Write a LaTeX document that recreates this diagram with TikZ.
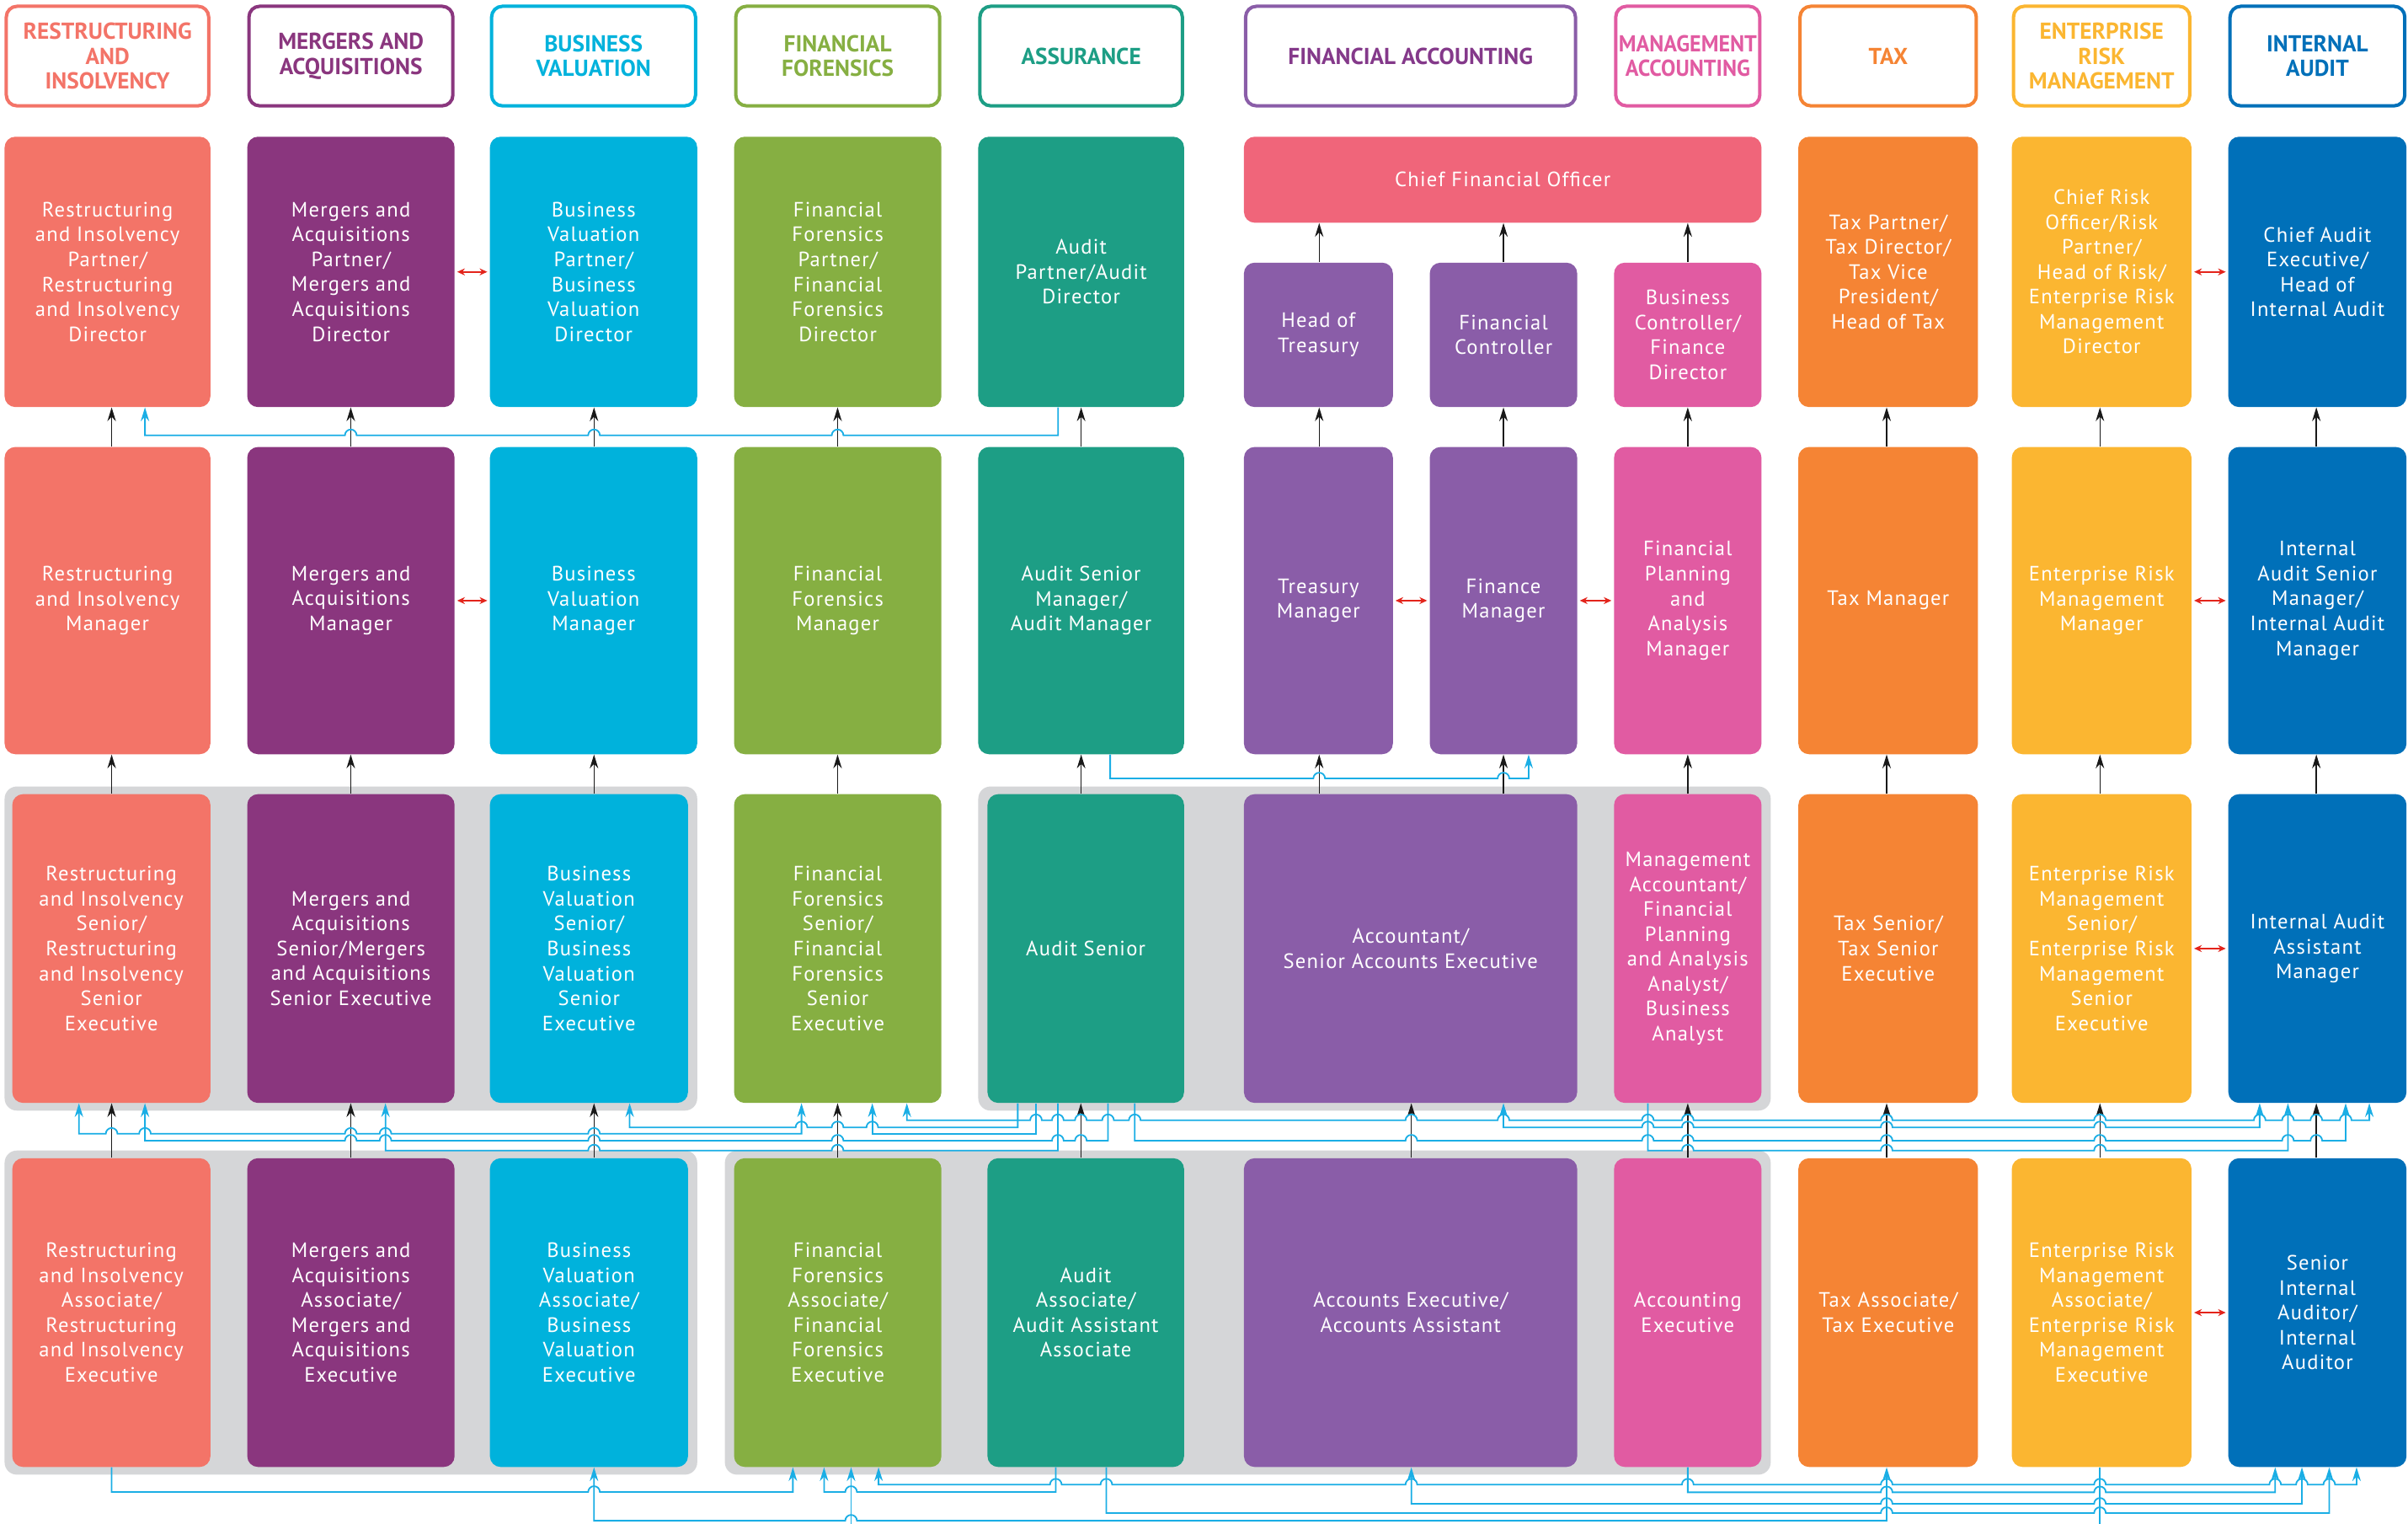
\documentclass[tikz,border=0pt]{standalone}
\usepackage{fontspec}
\usetikzlibrary{arrows.meta}
\newfontfamily\rolefont[LetterSpace=5]{PT Sans}
\newfontfamily\hdrfont{PT Sans}
\newfontfamily\hdrfontn[FakeStretch=0.95]{PT Sans}
\definecolor{cRI}{HTML}{F37468}
\definecolor{cMA}{HTML}{8A367E}
\definecolor{cBV}{HTML}{00B2DC}
\definecolor{cFF}{HTML}{86AF42}
\definecolor{cAS}{HTML}{1D9E85}
\definecolor{cFA}{HTML}{8A5DA8}
\definecolor{cFAt}{HTML}{84398A}
\definecolor{cMG}{HTML}{E15BA2}
\definecolor{cTX}{HTML}{F58434}
\definecolor{cER}{HTML}{FBB631}
\definecolor{cIA}{HTML}{0070B9}
\definecolor{cCFO}{HTML}{F0657A}
\definecolor{cGR}{HTML}{D5D6D8}
\definecolor{cBL}{HTML}{1AAEE5}
\definecolor{cRD}{HTML}{E3241B}
\newcommand\hopsR[2]{\gdef\hp{}\foreach \hh in {#2}{\xdef\hp{\hp -- (\hh-3.8,#1) arc[start angle=180,end angle=360,radius=3.8]}}}
\newcommand\hopsL[2]{\gdef\hp{}\foreach \hh in {#2}{\xdef\hp{\hp -- (\hh+3.8,#1) arc[start angle=0,end angle=-180,radius=3.8]}}}
\newcommand\bline[6]{\edef\tmpb{\noexpand\draw[bl,#1] #2 -- (#4,#3) \hp\space -- (#5,#3) -- #6;}\tmpb}
\newcommand\mkrole[7]{\node[role,fill=#2,minimum width={#5-#4},minimum height={#7-#6}] (#1) at ({(#4+#5)/2},{(#6+#7)/2}) {#3};}
\newcommand\mkhdr[6]{\node[hdr,draw=#2,text=#3,minimum width={#5-#4-2.2},minimum height={64.8}] (#1) at ({(#4+#5)/2},36.5) {#6};}
\tikzset{
  role/.style={rounded corners=7pt,text=white,align=center,inner sep=0pt,
    font={\rolefont\fontsize{13.5}{16.2}\selectfont}},
  hdr/.style={line width=2.2pt,rounded corners=7pt,fill=white,align=center,inner sep=0pt,
    font={\hdrfont\bfseries\fontsize{15}{16.2}\selectfont}},
  hdrn/.style={font={\hdrfontn\bfseries\fontsize{15}{16.2}\selectfont}},
  >={Stealth[length=9pt,width=5.5pt]},
  blk/.style={draw=black!90,line width=0.8pt,->},
  bl/.style={draw=cBL,line width=1pt},
  rdbl/.style={draw=cRD,line width=0.9pt,{Stealth[length=5pt,width=4.5pt]}-{Stealth[length=5pt,width=4.5pt]},shorten <=1.5pt,shorten >=1.5pt}
}
\begin{document}
\begin{tikzpicture}[x=1pt,y=-1pt]
\useasboundingbox (0,0) rectangle (1568,992);
\fill[white] (0,0) rectangle (1568,992);
% grey groups
\fill[cGR,rounded corners=8pt] (3,512) rectangle (454,723);
\fill[cGR,rounded corners=8pt] (637,512) rectangle (1153,723);
\fill[cGR,rounded corners=8pt] (3,749) rectangle (454,960);
\fill[cGR,rounded corners=8pt] (472,749) rectangle (1153,960);
% headers
\mkhdr{h1}{cRI}{cRI}{3}{137}{RESTRUCTURING\\AND\\INSOLVENCY}
\mkhdr{h2}{cMA}{cMA}{161}{296}{MERGERS AND\\ACQUISITIONS}
\mkhdr{h3}{cBV}{cBV}{319}{454}{BUSINESS\\VALUATION}
\mkhdr{h4}{cFF}{cFF}{478}{613}{FINANCIAL\\FORENSICS}
\mkhdr{h5}{cAS}{cAS}{637}{771}{ASSURANCE}
\mkhdr{h6}{cFA}{cFAt}{810}{1027}{FINANCIAL ACCOUNTING}
\node[hdr,hdrn,draw=cMG,text=cMG,minimum width={1147-1051-2.2},minimum height={64.8}] (h7) at (1099,36.5) {MANAGEMENT\\ACCOUNTING};
\mkhdr{h8}{cTX}{cTX}{1171}{1288}{TAX}
\mkhdr{h9}{cER}{cER}{1310}{1427}{ENTERPRISE\\RISK\\MANAGEMENT}
\mkhdr{h10}{cIA}{cIA}{1451}{1567}{INTERNAL\\AUDIT}
% row 1
\mkrole{ri1}{cRI}{Restructuring\\and Insolvency\\Partner/\\Restructuring\\and Insolvency\\Director}{3}{137}{89}{265}
\mkrole{ma1}{cMA}{Mergers and\\Acquisitions\\Partner/\\Mergers and\\Acquisitions\\Director}{161}{296}{89}{265}
\mkrole{bv1}{cBV}{Business\\Valuation\\Partner/\\Business\\Valuation\\Director}{319}{454}{89}{265}
\mkrole{fs1}{cFF}{Financial\\Forensics\\Partner/\\Financial\\Forensics\\Director}{478}{613}{89}{265}
\mkrole{as1}{cAS}{Audit\\Partner/Audit\\Director}{637}{771}{89}{265}
\mkrole{cfo}{cCFO}{Chief Financial Officer}{810}{1147}{89}{145}
\mkrole{ht1}{cFA}{Head of\\Treasury}{810}{907}{171}{265}
\mkrole{fc1}{cFA}{Financial\\Controller}{931}{1027}{171}{265}
\mkrole{bc1}{cMG}{Business\\Controller/\\Finance\\Director}{1051}{1147}{171}{265}
\mkrole{tx1}{cTX}{Tax Partner/\\Tax Director/\\Tax Vice\\President/\\Head of Tax}{1171}{1288}{89}{265}
\mkrole{er1}{cER}{Chief Risk\\Officer/Risk\\Partner/\\Head of Risk/\\Enterprise Risk\\Management\\Director}{1310}{1427}{89}{265}
\mkrole{ia1}{cIA}{Chief Audit\\Executive/\\Head of\\Internal Audit}{1451}{1567}{89}{265}
% row 2
\mkrole{ri2}{cRI}{Restructuring\\and Insolvency\\Manager}{3}{137}{291}{491}
\mkrole{ma2}{cMA}{Mergers and\\Acquisitions\\Manager}{161}{296}{291}{491}
\mkrole{bv2}{cBV}{Business\\Valuation\\Manager}{319}{454}{291}{491}
\mkrole{fs2}{cFF}{Financial\\Forensics\\Manager}{478}{613}{291}{491}
\mkrole{as2}{cAS}{Audit Senior\\Manager/\\Audit Manager}{637}{771}{291}{491}
\mkrole{tm2}{cFA}{Treasury\\Manager}{810}{907}{291}{491}
\mkrole{fm2}{cFA}{Finance\\Manager}{931}{1027}{291}{491}
\mkrole{fp2}{cMG}{Financial\\Planning\\and\\Analysis\\Manager}{1051}{1147}{291}{491}
\mkrole{tx2}{cTX}{Tax Manager}{1171}{1288}{291}{491}
\mkrole{er2}{cER}{Enterprise Risk\\Management\\Manager}{1310}{1427}{291}{491}
\mkrole{ia2}{cIA}{Internal\\Audit Senior\\Manager/\\Internal Audit\\Manager}{1451}{1567}{291}{491}
% row 3
\mkrole{ri3}{cRI}{Restructuring\\and Insolvency\\Senior/\\Restructuring\\and Insolvency\\Senior\\Executive}{8}{137}{517}{718}
\mkrole{ma3}{cMA}{Mergers and\\Acquisitions\\Senior/Mergers\\and Acquisitions\\Senior Executive}{161}{296}{517}{718}
\mkrole{bv3}{cBV}{Business\\Valuation\\Senior/\\Business\\Valuation\\Senior\\Executive}{319}{448}{517}{718}
\mkrole{fs3}{cFF}{Financial\\Forensics\\Senior/\\Financial\\Forensics\\Senior\\Executive}{478}{613}{517}{718}
\mkrole{as3}{cAS}{Audit Senior}{643}{771}{517}{718}
\mkrole{ac3}{cFA}{Accountant/\\Senior Accounts Executive}{810}{1027}{517}{718}
\mkrole{mg3}{cMG}{Management\\Accountant/\\Financial\\Planning\\and Analysis\\Analyst/\\Business\\Analyst}{1051}{1147}{517}{718}
\mkrole{tx3}{cTX}{Tax Senior/\\Tax Senior\\Executive}{1171}{1288}{517}{718}
\mkrole{er3}{cER}{Enterprise Risk\\Management\\Senior/\\Enterprise Risk\\Management\\Senior\\Executive}{1310}{1427}{517}{718}
\mkrole{ia3}{cIA}{Internal Audit\\Assistant\\Manager}{1451}{1567}{517}{718}
% row 4
\mkrole{ri4}{cRI}{Restructuring\\and Insolvency\\Associate/\\Restructuring\\and Insolvency\\Executive}{8}{137}{754}{955}
\mkrole{ma4}{cMA}{Mergers and\\Acquisitions\\Associate/\\Mergers and\\Acquisitions\\Executive}{161}{296}{754}{955}
\mkrole{bv4}{cBV}{Business\\Valuation\\Associate/\\Business\\Valuation\\Executive}{319}{448}{754}{955}
\mkrole{fs4}{cFF}{Financial\\Forensics\\Associate/\\Financial\\Forensics\\Executive}{478}{613}{754}{955}
\mkrole{as4}{cAS}{Audit\\Associate/\\Audit Assistant\\Associate}{643}{771}{754}{955}
\mkrole{ac4}{cFA}{Accounts Executive/\\Accounts Assistant}{810}{1027}{754}{955}
\mkrole{mg4}{cMG}{Accounting\\Executive}{1051}{1147}{754}{955}
\mkrole{tx4}{cTX}{Tax Associate/\\Tax Executive}{1171}{1288}{754}{955}
\mkrole{er4}{cER}{Enterprise Risk\\Management\\Associate/\\Enterprise Risk\\Management\\Executive}{1310}{1427}{754}{955}
\mkrole{ia4}{cIA}{Senior\\Internal\\Auditor/\\Internal\\Auditor}{1451}{1567}{754}{955}
% black promotion arrows
\foreach \pp/\qq/\xx in {ri2/ri1/72.7,ma2/ma1/228.4,bv2/bv1/386.8,fs2/fs1/545.4,as2/as1/704,
  tm2/ht1/859,fm2/fc1/979,fp2/bc1/1099,tx2/tx1/1228.5,er2/er1/1367.4,ia2/ia1/1508.3,
  ht1/cfo/859,fc1/cfo/979,bc1/cfo/1099,
  ri3/ri2/72.7,ma3/ma2/228.4,bv3/bv2/386.8,fs3/fs2/545.4,as3/as2/704,ac3/tm2/859,ac3/fm2/979,
  mg3/fp2/1099,tx3/tx2/1228.5,er3/er2/1367.4,ia3/ia2/1508.3,
  ri4/ri3/72.7,ma4/ma3/228.4,bv4/bv3/386.8,fs4/fs3/545.4,as4/as3/703.8,ac4/ac3/919,
  mg4/mg3/1099,tx4/tx3/1228.5,er4/er3/1367.4,ia4/ia3/1508.3}
  {\draw[blk] (\pp.north -| \xx,0) -- (\qq.south -| \xx,0);}
% red lateral arrows
\draw[rdbl] (ma1.east) -- (bv1.west);
\draw[rdbl] (er1.east) -- (ia1.west);
\draw[rdbl] (ma2.east) -- (bv2.west);
\draw[rdbl] (tm2.east) -- (fm2.west);
\draw[rdbl] (fm2.east) -- (fp2.west);
\draw[rdbl] (er2.east) -- (ia2.west);
\draw[rdbl] (er3.east) -- (ia3.west);
\draw[rdbl] (er4.east) -- (ia4.west);
% blue lateral moves: rows 1-2
\hopsL{283.4}{545.4,386.8,228.4}
\bline{->}{(as1.south -| 689,0)}{283.4}{689}{94.4}{(ri1.south -| 94.4,0)}
\hopsR{506.8}{859,979}
\bline{->}{(as2.south -| 722.9,0)}{506.8}{722.9}{995.4}{(fm2.south -| 995.4,0)}
% rows 3-4 gap
\hopsR{738.1}{72.7,94.4,228.4,251,386.8}
\bline{<->}{(ri3.south -| 51.4,0)}{738.1}{51.4}{521.9}{(fs3.south -| 521.9,0)}
\hopsL{742.6}{703.8,688.8,545.4,386.8,251,228.4}
\bline{->}{(as3.south -| 721.5,0)}{742.6}{721.5}{94.4}{(ri3.south -| 94.4,0)}
\hopsL{749}{545.4,386.8}
\bline{->}{(as3.south -| 688.8,0)}{749}{688.8}{251}{(ma3.south -| 251,0)}
\hopsL{733.9}{568,545.4,521.9}
\bline{->}{(as3.south -| 662.7,0)}{733.9}{662.7}{410}{(bv3.south -| 410,0)}
\hopsR{729.3}{674.6,688.8,703.8,721.5,738.9,919,979,1073,1099,1228.5,1367.4,1471.4,1489.8,1508.3,1527.4}
\bline{<->}{(fs3.south -| 590.5,0)}{729.3}{590.5}{1542.8}{(ia3.south -| 1542.8,0)}
\draw[bl,->] (as3.south -| 674.6,0) -- (674.6,738.1) -- (568,738.1) -- (fs3.south -| 568,0);
\hopsR{742.6}{919,1073,1099,1228.5,1367.4,1489.8,1508.3}
\bline{->}{(as3.south -| 738.9,0)}{742.6}{738.9}{1527.4}{(ia3.south -| 1527.4,0)}
\hopsR{733.9}{1073,1099,1228.5,1367.4}
\bline{<->}{(ac3.south -| 979,0)}{733.9}{979}{1471.4}{(ia3.south -| 1471.4,0)}
\hopsR{749}{1099,1228.5,1367.4}
\bline{->}{(mg3.south -| 1073,0)}{749}{1073}{1489.8}{(ia3.south -| 1489.8,0)}
% below row 4
\hopsR{971.3}{386.8}
\bline{->}{(ri4.south -| 72.7,0)}{971.3}{72.7}{516.3}{(fs4.south -| 516.3,0)}
\hopsR{990}{554.2}
\bline{<->}{(bv4.south -| 386.8,0)}{990}{386.8}{1228.5}{(tx4.south -| 1228.5,0)}
\hopsL{971.3}{554.2}
\bline{->}{(as4.south -| 687.5,0)}{971.3}{687.5}{536.6}{(fs4.south -| 536.6,0)}
\hopsR{966.5}{687.5,720.4,919,1099,1228.5,1367.4,1481.5,1498.9,1516.7}
\bline{<->}{(fs4.south -| 572.1,0)}{966.5}{572.1}{1534.5}{(ia4.south -| 1534.5,0)}
\hopsR{971.5}{1228.5,1367.4}
\bline{->}{(mg4.south -| 1099,0)}{971.5}{1099}{1481.5}{(ia4.south -| 1481.5,0)}
\hopsR{979}{1228.5,1367.4}
\bline{<->}{(ac4.south -| 919,0)}{979}{919}{1498.9}{(ia4.south -| 1498.9,0)}
\hopsR{985}{1228.5,1367.4}
\bline{->}{(as4.south -| 720.4,0)}{985}{720.4}{1516.7}{(ia4.south -| 1516.7,0)}
\draw[bl,->] (er4.south -| 1367.4,0) -- (1367.4,998) -- (554.2,998) -- (fs4.south -| 554.2,0);
\end{tikzpicture}
\end{document}
